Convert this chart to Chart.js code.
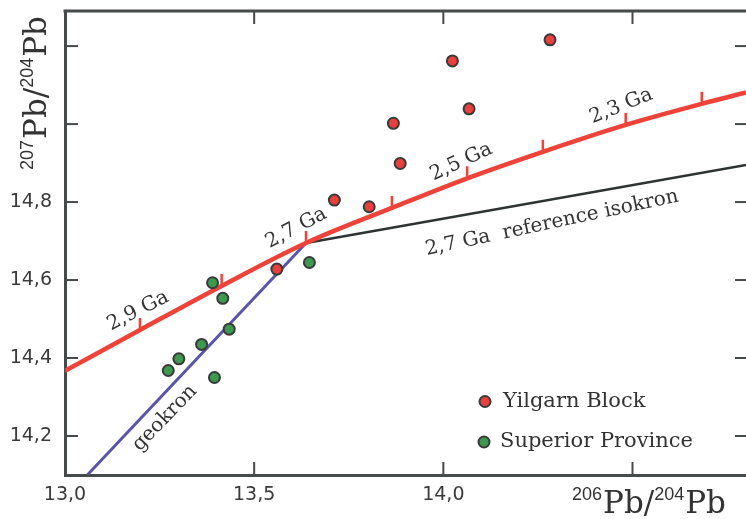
<!DOCTYPE html>
<html><head><meta charset="utf-8">
<script src="https://cdn.jsdelivr.net/npm/chart.js@4.4.0/dist/chart.umd.min.js"></script>
<style>html,body{margin:0;padding:0;background:#fff;}canvas{display:block;}</style>
</head><body>
<canvas id="c" width="746" height="519"></canvas>
<script>
// ---- data ----
const seriesNames = ['Yilgarn Block', 'Superior Province'];
const yilgarnX = [13.560, 13.712, 13.804, 13.868, 13.886, 14.024, 14.068, 14.282];
const yilgarnY = [14.628, 14.805, 14.788, 15.002, 14.899, 15.162, 15.039, 15.216];
const superiorX = [13.390, 13.417, 13.646, 13.434, 13.361, 13.301, 13.273, 13.395];
const superiorY = [14.593, 14.553, 14.645, 14.474, 14.435, 14.398, 14.368, 14.350];
const growthX = [13.000, 13.198, 13.414, 13.637, 13.864, 14.063, 14.263, 14.482, 14.683, 14.800];
const growthY = [14.367, 14.472, 14.585, 14.695, 14.785, 14.861, 14.929, 14.998, 15.052, 15.081];
const growthAge = [null, 2.9, 2.8, 2.7, 2.6, 2.5, 2.4, 2.3, 2.2, null];
const geokronX = [13.059, 13.637];
const geokronY = [14.100, 14.695];
const isokronX = [13.637, 14.800];
const isokronY = [14.695, 14.895];
const xTicks = [13.0, 13.5, 14.0, 14.5];
const xTickLabels = ['13,0', '13,5', '14,0', null];
const yTicks = [14.2, 14.4, 14.6, 14.8, 15.0, 15.2];
const yTickLabels = ['14,2', '14,4', '14,6', '14,8', null, null];
const lineLabelText = ['2,9 Ga', '2,7 Ga', '2,5 Ga', '2,3 Ga', '2,7 Ga  reference isokron', 'geokron'];
const lineLabelX = [13.193, 13.611, 14.047, 14.470, 14.287, 13.264];
const lineLabelY = [14.521, 14.733, 14.903, 15.046, 14.746, 14.246];
const lineLabelAngle = [-27, -28, -25, -22, -12, -46];

const pts = (xs, ys) => xs.map((x, i) => ({x, y: ys[i]}));
const SERIF = '"DejaVu Serif", serif';
const SANS = '"DejaVu Sans", sans-serif';
const INK = '#3a3a3a';
const AXIS = '#474a4a';
const RED = '#ef4239';

const zeroPad = s => { s.paddingTop = 0; s.paddingBottom = 0; s.paddingLeft = 0; s.paddingRight = 0; };

const decor = {
  id: 'decor',
  afterDatasetsDraw(chart) {
    const {ctx, scales: {x, y}} = chart;
    ctx.save();
    ctx.strokeStyle = RED; ctx.lineWidth = 2.5; ctx.lineCap = 'butt';
    growthAge.forEach((age, i) => {
      if (age === null) return;
      const px = x.getPixelForValue(growthX[i]), py = y.getPixelForValue(growthY[i]);
      ctx.beginPath(); ctx.moveTo(px, py); ctx.lineTo(px, py - 12); ctx.stroke();
    });
    ctx.fillStyle = '#333'; ctx.font = '20px ' + SERIF;
    ctx.textAlign = 'center'; ctx.textBaseline = 'middle';
    lineLabelText.forEach((t, i) => {
      ctx.save();
      ctx.translate(x.getPixelForValue(lineLabelX[i]), y.getPixelForValue(lineLabelY[i]));
      ctx.rotate(lineLabelAngle[i] * Math.PI / 180);
      ctx.fillText(t, 0, 0);
      ctx.restore();
    });
    ctx.restore();
  },
  afterDraw(chart) {
    const {ctx, chartArea: a, scales: {x, y}} = chart;
    ctx.save();
    ctx.strokeStyle = AXIS; ctx.lineWidth = 3;
    ctx.beginPath(); ctx.moveTo(a.left - 1.5, a.top); ctx.lineTo(a.right, a.top); ctx.stroke();
    ctx.lineWidth = 2;
    xTicks.forEach(v => {
      const px = x.getPixelForValue(v);
      if (v > 13.0) {
        ctx.beginPath(); ctx.moveTo(px, a.bottom); ctx.lineTo(px, a.bottom - 13); ctx.stroke();
        ctx.beginPath(); ctx.moveTo(px, a.top); ctx.lineTo(px, a.top + 13); ctx.stroke();
      }
    });
    yTicks.forEach(v => {
      const py = y.getPixelForValue(v);
      ctx.beginPath(); ctx.moveTo(a.left, py); ctx.lineTo(a.left + 13, py); ctx.stroke();
      ctx.beginPath(); ctx.moveTo(a.right, py); ctx.lineTo(a.right - 11, py); ctx.stroke();
    });
    const items = [[485, 401.5, 503], [484, 442, 500]];
    items.forEach(([mx, my, tx], i) => {
      const ds = chart.data.datasets[i];
      ctx.beginPath(); ctx.arc(mx, my, 5.5, 0, Math.PI * 2);
      ctx.fillStyle = ds.backgroundColor; ctx.fill();
      ctx.lineWidth = 2; ctx.strokeStyle = ds.borderColor; ctx.stroke();
      ctx.fillStyle = '#333'; ctx.font = '21px ' + SERIF;
      ctx.textAlign = 'left'; ctx.textBaseline = 'middle';
      ctx.fillText(ds.label, tx, my);
    });
    const drawTitle = (sup1, sup2) => {
      let cx = 0;
      const parts = [[sup1, true], ['Pb/', false], [sup2, true], ['Pb', false]];
      parts.forEach(([t, sup]) => {
        ctx.font = sup ? '18px "Liberation Sans Narrow", "Liberation Sans", sans-serif' : '31px ' + SERIF;
        ctx.fillText(t, cx, sup ? -13 : 0);
        cx += ctx.measureText(t).width + (sup ? 1 : 0);
      });
    };
    ctx.fillStyle = '#333'; ctx.textAlign = 'left'; ctx.textBaseline = 'alphabetic';
    ctx.save(); ctx.translate(572, 513); drawTitle('206', '204'); ctx.restore();
    ctx.save(); ctx.translate(46, 170); ctx.rotate(-Math.PI / 2); drawTitle('207', '204'); ctx.restore();
    ctx.restore();
  }
};

new Chart(document.getElementById('c'), {
  type: 'scatter',
  data: {
    datasets: [
      {label: seriesNames[0], data: pts(yilgarnX, yilgarnY), backgroundColor: '#e8413d', borderColor: '#3a3a3a',
       pointRadius: 5.5, pointBorderWidth: 2, pointHoverRadius: 5.5},
      {label: seriesNames[1], data: pts(superiorX, superiorY), backgroundColor: '#3b9a4e', borderColor: '#3a3a3a',
       pointRadius: 5.5, pointBorderWidth: 2, pointHoverRadius: 5.5},
      {label: 'growth', data: pts(growthX, growthY), showLine: true, borderColor: RED, borderWidth: 4.5,
       pointRadius: 0, cubicInterpolationMode: 'monotone'},
      {label: 'geokron', data: pts(geokronX, geokronY), showLine: true, borderColor: '#5a55a7', borderWidth: 3, pointRadius: 0},
      {label: 'isokron', data: pts(isokronX, isokronY), showLine: true, borderColor: '#2e3434', borderWidth: 2.5, pointRadius: 0}
    ]
  },
  options: {
    responsive: false, devicePixelRatio: 1, animation: false,
    layout: {autoPadding: false, padding: {top: 11, left: 0, right: 0, bottom: 0}},
    plugins: {legend: {display: false}, tooltip: {enabled: false}},
    scales: {
      x: {
        type: 'linear', min: 13.0, max: 14.8,
        afterBuildTicks: s => { s.ticks = xTicks.map(v => ({value: v})); },
        afterFit: s => { s.height = 44; zeroPad(s); },
        grid: {display: false, drawTicks: false},
        border: {display: true, width: 3, color: AXIS},
        ticks: {padding: 9, maxRotation: 0, autoSkip: false, color: INK, font: {family: SANS, size: 19},
                callback: (v, i) => xTickLabels[i]}
      },
      y: {
        type: 'linear', min: 14.1, max: 15.29,
        afterBuildTicks: s => { s.ticks = yTicks.map(v => ({value: v})); },
        afterFit: s => { s.width = 65; zeroPad(s); },
        grid: {display: false, drawTicks: false},
        border: {display: true, width: 3, color: AXIS},
        ticks: {padding: 13, autoSkip: false, color: INK, font: {family: SANS, size: 19},
                callback: (v, i) => yTickLabels[i]}
      }
    }
  },
  plugins: [decor]
});
</script>
</body></html>
